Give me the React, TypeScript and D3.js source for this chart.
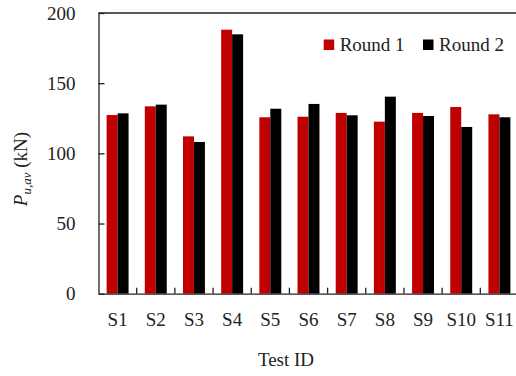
import * as d3 from "d3";
import { useEffect, useRef } from "react";

const categories = ["S1", "S2", "S3", "S4", "S5", "S6", "S7", "S8", "S9", "S10", "S11"];
const round1 = [127.3, 133.5, 112.1, 188.1, 125.7, 126.1, 128.8, 122.6, 128.8, 133.0, 127.8];
const round2 = [128.5, 134.7, 108.1, 184.8, 131.8, 135.2, 127.1, 140.4, 126.6, 118.8, 125.7];
const seriesNames = ["Round 1", "Round 2"];
const seriesColors = ["#c00000", "#000000"];
const yTicks = [0, 50, 100, 150, 200];

const FONT = "'Liberation Serif', 'Times New Roman', serif";

function Chart() {
  const ref = useRef<SVGSVGElement | null>(null);
  const width = 516;
  const height = 376;
  const marginTop = 13;
  const marginLeft = 98.5;
  const plotRight = 518.5;
  const plotBottom = 293.7;

  useEffect(() => {
    const svg = d3.select(ref.current);
    svg.selectAll("*").remove();

    const x0 = d3.scaleBand().domain(categories).range([marginLeft, plotRight]).paddingInner(0).paddingOuter(0);
    const x1 = d3.scaleBand().domain(seriesNames).range([0, x0.bandwidth()]).paddingInner(0).paddingOuter(0.74);
    const y = d3.scaleLinear().domain([0, 200]).range([plotBottom, marginTop]);

    const rows = categories.map((c, i) => ({ cat: c, values: [round1[i], round2[i]] }));

    // bars
    const groups = svg.append("g")
      .selectAll("g")
      .data(rows)
      .join("g")
      .attr("transform", d => `translate(${x0(d.cat)},0)`);

    groups.selectAll("rect")
      .data(d => d.values.map((v, k) => ({ key: seriesNames[k], v, k })))
      .join("rect")
      .attr("x", d => x1(d.key)!)
      .attr("width", x1.bandwidth())
      .attr("y", d => y(d.v))
      .attr("height", d => y(0) - y(d.v))
      .attr("fill", d => seriesColors[d.k]);

    // y axis
    const yAxis = svg.append("g")
      .attr("transform", `translate(${marginLeft},0)`)
      .call(d3.axisLeft(y).tickValues(yTicks).tickSizeInner(-6).tickSizeOuter(0).tickPadding(23));
    yAxis.select(".domain").attr("stroke", "#222").attr("stroke-width", 1.3);
    yAxis.selectAll(".tick line").attr("stroke", "#222").attr("stroke-width", 1.3);
    yAxis.selectAll("text").attr("font-family", FONT).attr("font-size", 19).attr("fill", "#222");

    // x axis
    const xAxis = svg.append("g")
      .attr("transform", `translate(0,${plotBottom})`)
      .call(d3.axisBottom(x0).tickSize(0).tickPadding(19));
    xAxis.select(".domain").attr("stroke", "#222").attr("stroke-width", 1.3);
    xAxis.selectAll("text").attr("font-family", FONT).attr("font-size", 19).attr("fill", "#222");

    // category separators, pointing up
    svg.append("g")
      .selectAll("line")
      .data(categories.slice(1))
      .join("line")
      .attr("x1", d => x0(d)!)
      .attr("x2", d => x0(d)!)
      .attr("y1", plotBottom)
      .attr("y2", plotBottom - 6)
      .attr("stroke", "#222")
      .attr("stroke-width", 1.3);

    // top border
    svg.append("line")
      .attr("x1", marginLeft)
      .attr("x2", width)
      .attr("y1", marginTop)
      .attr("y2", marginTop)
      .attr("stroke", "#222")
      .attr("stroke-width", 1.3);

    // y title
    const yt = svg.append("text")
      .attr("transform", `translate(27,169) rotate(-90)`)
      .attr("text-anchor", "middle")
      .attr("font-family", FONT)
      .attr("font-size", 19)
      .attr("fill", "#222");
    yt.append("tspan").attr("font-style", "italic").text("P");
    yt.append("tspan").attr("font-style", "italic").attr("font-size", 13).attr("dy", 4).text("u,av");
    yt.append("tspan").attr("dy", -4).text(" (kN)");

    // x title
    svg.append("text")
      .attr("x", 286)
      .attr("y", 366)
      .attr("text-anchor", "middle")
      .attr("font-family", FONT)
      .attr("font-size", 19)
      .attr("fill", "#222")
      .text("Test ID");

    // legend
    const legendX = [323.7, 423];
    const legend = svg.append("g")
      .selectAll("g")
      .data(seriesNames)
      .join("g")
      .attr("transform", (d, i) => `translate(${legendX[i]},39.5)`);
    legend.append("rect")
      .attr("width", 10.5)
      .attr("height", 10.5)
      .attr("fill", (d, i) => seriesColors[i]);
    legend.append("text")
      .attr("x", 16)
      .attr("y", 11.2)
      .attr("font-family", FONT)
      .attr("font-size", 19)
      .attr("fill", "#222")
      .text(d => d);
  }, []);

  return (
    <svg
      ref={ref}
      width={width}
      height={height}
      viewBox={`0 0 ${width} ${height}`}
      style={{ position: "absolute", left: 0, top: 0, background: "#fff" }}
    />
  );
}

export default function App() {
  return <Chart />;
}
